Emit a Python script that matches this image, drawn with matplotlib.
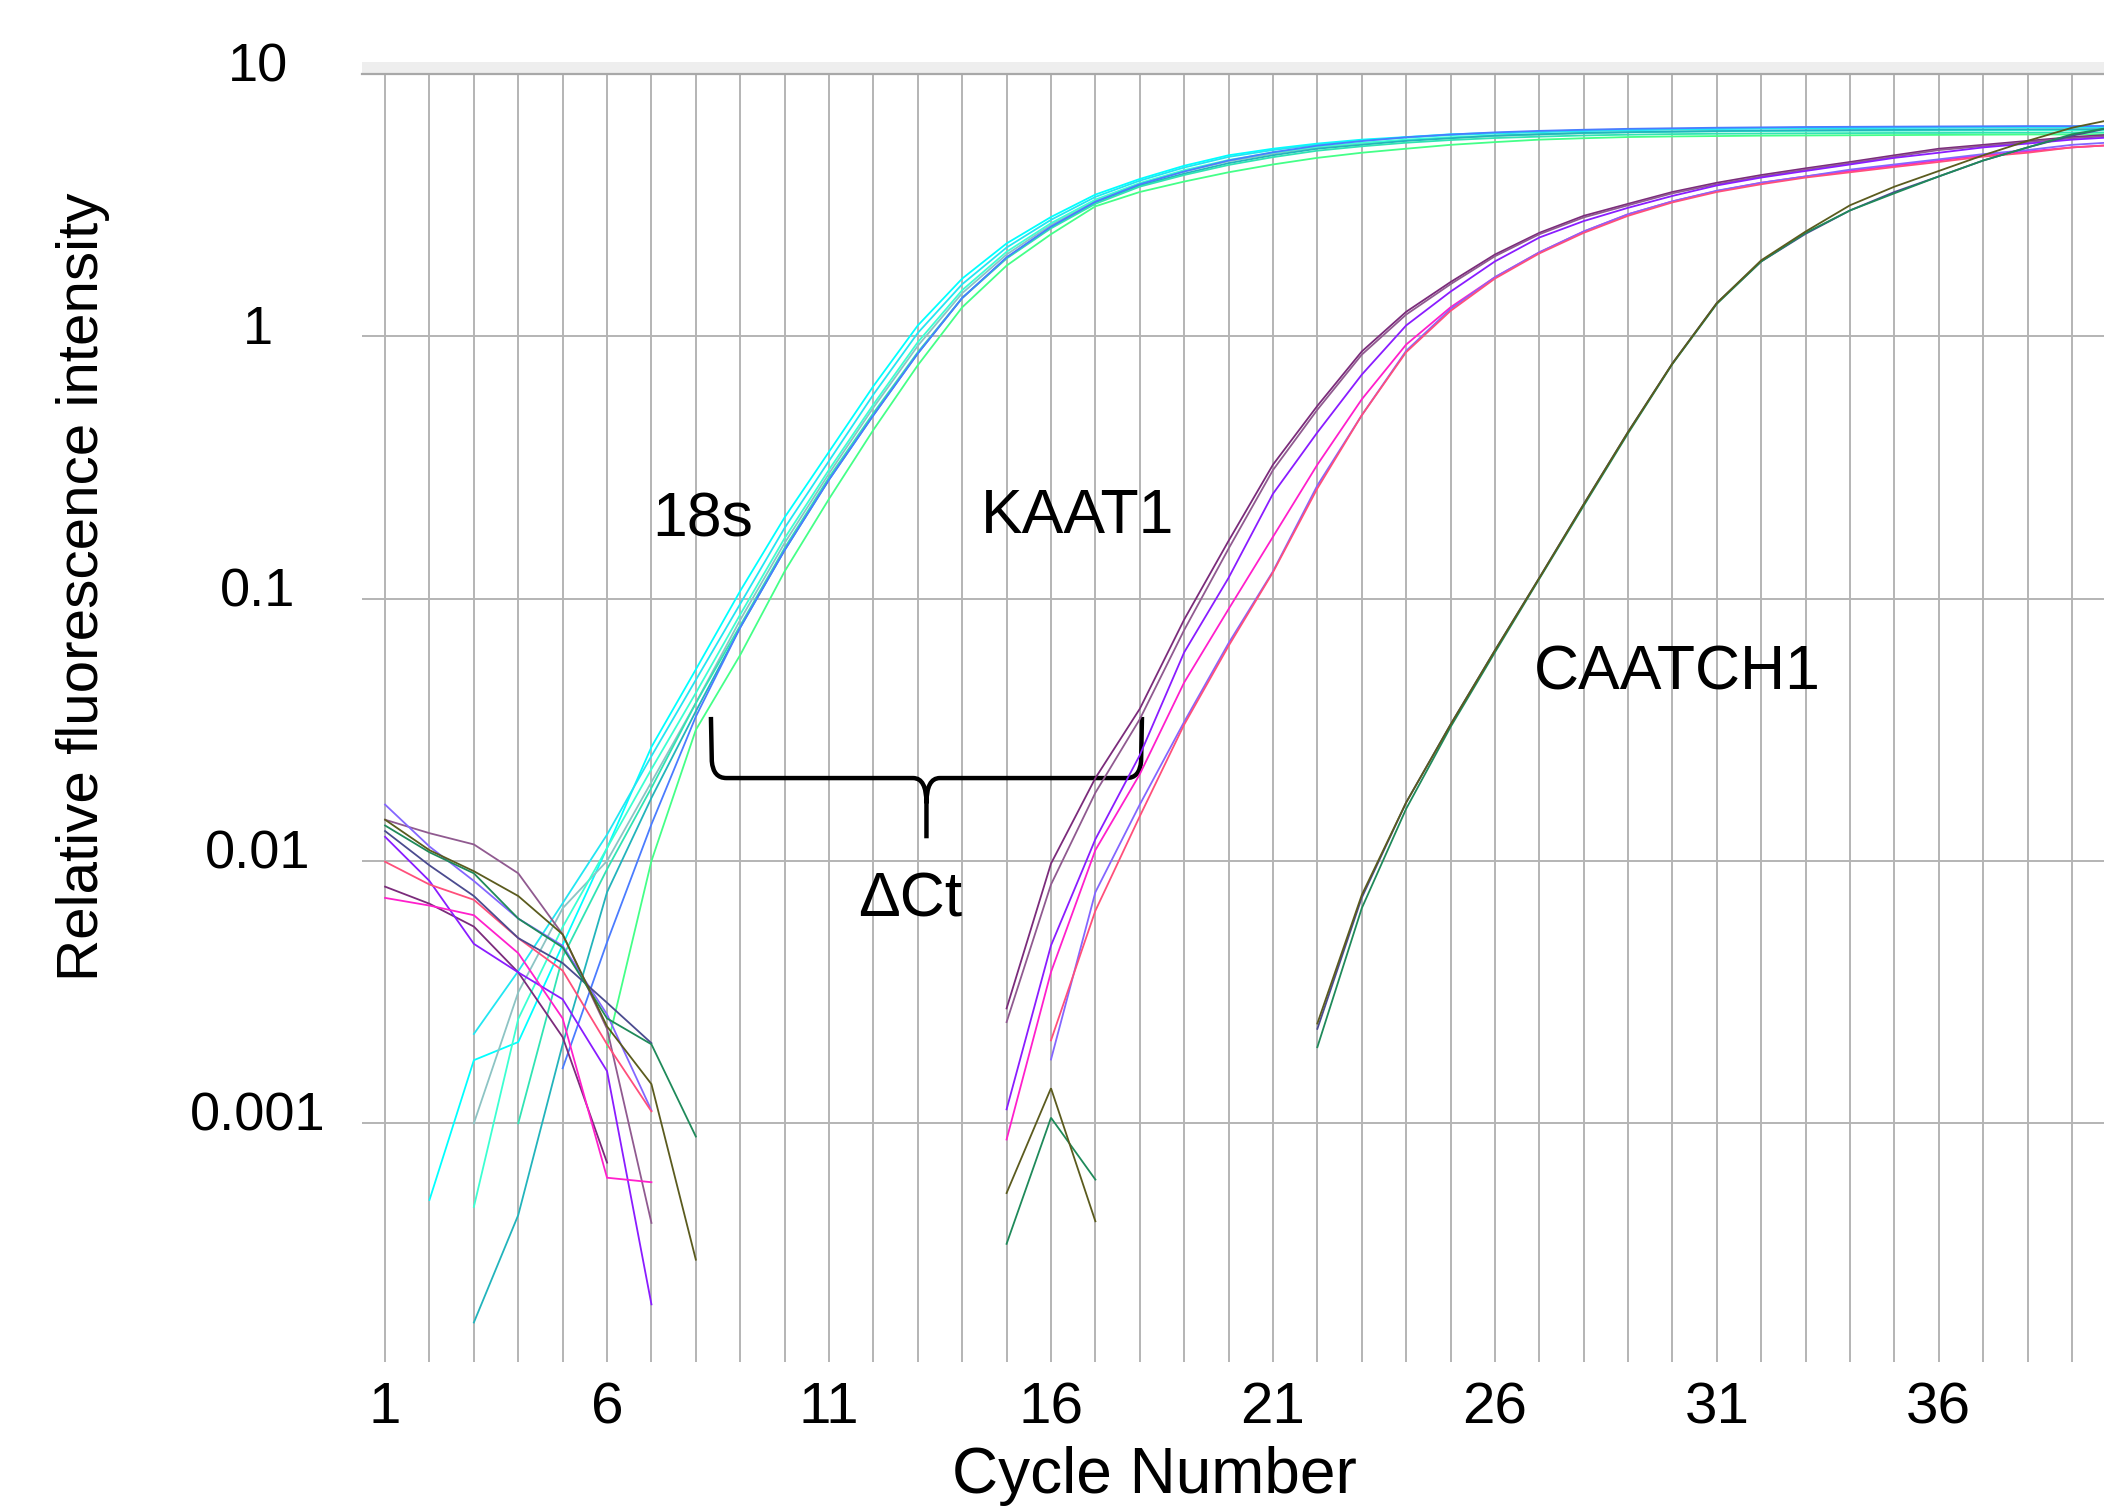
import numpy as np
import matplotlib.pyplot as plt
from matplotlib.path import Path
from matplotlib.patches import PathPatch, Rectangle
from matplotlib.ticker import MultipleLocator, NullLocator
from matplotlib.transforms import ScaledTranslation

plt.rcParams['font.family'] = ['Liberation Sans', 'DejaVu Sans']

# Relative fluorescence per cycle.
# Each curve is a list of (first cycle, values) segments; gaps are cycles
# where the baseline-corrected signal fell below zero.

# 18s (reference gene)
s18_cyan = [(2, [0.00051, 0.00174, 0.00204, 0.00479, 0.0112, 0.0272, 0.0537, 0.107, 0.204,
                 0.363, 0.646, 1.10, 1.66, 2.26, 2.85, 3.47, 3.98, 4.47, 4.90, 5.19, 5.43,
                 5.62, 5.75, 5.89, 5.96, 6.03, 6.10, 6.12, 6.17, 6.19, 6.22, 6.24, 6.25,
                 6.26, 6.27, 6.28, 6.29, 6.30, 6.31])]
s18_cyan2 = [(3, [0.00219, 0.0038, 0.0069, 0.0126, 0.0251, 0.049, 0.0955, 0.186, 0.335, 0.60,
                  1.03, 1.58, 2.18, 2.78, 3.40, 3.92, 4.40, 4.83, 5.13, 5.38, 5.58, 5.72,
                  5.85, 5.93, 6.00, 6.06, 6.10, 6.14, 6.17, 6.19, 6.21, 6.22, 6.23, 6.24,
                  6.25, 6.26, 6.27, 6.28])]
s18_gray = [(3, [0.0010, 0.00316, 0.0066, 0.010, 0.020, 0.040, 0.083, 0.163, 0.30, 0.535,
                 0.92, 1.46, 2.05, 2.66, 3.28, 3.80, 4.25, 4.65, 4.97, 5.24, 5.43, 5.58,
                 5.70, 5.80, 5.88, 5.95, 6.00, 6.03, 6.05, 6.07, 6.08, 6.09, 6.10, 6.10,
                 6.11, 6.12, 6.12, 6.13])]
s18_aqua = [(3, [0.00048, 0.0025, 0.0056, 0.0112, 0.0224, 0.0437, 0.087, 0.170, 0.31, 0.55,
                 0.95, 1.50, 2.10, 2.70, 3.32, 3.84, 4.30, 4.70, 5.02, 5.28, 5.47, 5.62,
                 5.74, 5.83, 5.90, 5.96, 6.00, 6.03, 6.05, 6.06, 6.07, 6.08, 6.08, 6.09,
                 6.09, 6.10, 6.10, 6.10])]
s18_teal = [(3, [0.000174, 0.000447, 0.0020, 0.0076, 0.0174, 0.0372, 0.0776, 0.153, 0.284,
                 0.501, 0.861, 1.40, 1.99, 2.60, 3.24, 3.76, 4.17, 4.57, 4.90, 5.19, 5.37,
                 5.56, 5.69, 5.82, 5.89, 5.96, 6.00, 6.03, 6.06, 6.08, 6.10, 6.11, 6.12,
                 6.13, 6.14, 6.15, 6.16, 6.17])]
s18_seagreen = [(4, [0.0010, 0.0043, 0.0093, 0.019, 0.040, 0.079, 0.156, 0.29, 0.51, 0.87,
                     1.40, 1.98, 2.58, 3.20, 3.72, 4.12, 4.50, 4.82, 5.10, 5.30, 5.47, 5.60,
                     5.70, 5.77, 5.83, 5.87, 5.90, 5.92, 5.93, 5.94, 5.95, 5.96, 5.96, 5.97,
                     5.97, 5.98, 5.98])]
s18_blue = [(5, [0.00162, 0.0049, 0.0138, 0.0355, 0.0776, 0.153, 0.284, 0.50, 0.86, 1.40,
                 2.00, 2.62, 3.26, 3.80, 4.25, 4.68, 5.03, 5.33, 5.55, 5.74, 5.88, 5.99,
                 6.07, 6.13, 6.18, 6.21, 6.24, 6.26, 6.28, 6.29, 6.30, 6.31, 6.32, 6.33,
                 6.33, 6.34])]
s18_green = [(6, [0.00195, 0.010, 0.0316, 0.061, 0.127, 0.240, 0.440, 0.776, 1.29, 1.86,
                  2.45, 3.13, 3.55, 3.89, 4.22, 4.52, 4.79, 5.01, 5.19, 5.37, 5.50, 5.62,
                  5.69, 5.75, 5.78, 5.80, 5.82, 5.83, 5.84, 5.85, 5.86, 5.87, 5.88, 5.88,
                  5.89])]

# KAAT1
kaat1_purple = [(1, [0.00798, 0.00687, 0.00562, 0.00376, 0.00213, 0.000708]),
                (15, [0.00274, 0.00977, 0.0207, 0.038, 0.0832, 0.166, 0.324, 0.543, 0.875,
                      1.24, 1.61, 2.05, 2.48, 2.88, 3.20, 3.55, 3.85, 4.12, 4.37, 4.62, 4.90,
                      5.19, 5.37, 5.56, 5.75, 5.89])]
kaat1_mauve = [(1, [0.01436, 0.01276, 0.01156, 0.00897, 0.00525, 0.00229, 0.000417]),
               (15, [0.00243, 0.00813, 0.0182, 0.0347, 0.0759, 0.155, 0.309, 0.525, 0.851,
                     1.21, 1.58, 2.02, 2.45, 2.84, 3.16, 3.51, 3.80, 4.07, 4.32, 4.57, 4.84,
                     5.13, 5.31, 5.50, 5.69, 5.82])]
kaat1_violet = [(1, [0.01236, 0.00839, 0.00483, 0.00376, 0.00297, 0.00158, 0.000204]),
                (15, [0.00113, 0.00476, 0.0121, 0.0253, 0.0624, 0.12, 0.251, 0.43, 0.714,
                      1.10, 1.48, 1.93, 2.38, 2.75, 3.09, 3.43, 3.76, 4.03, 4.27, 4.52, 4.79,
                      5.01, 5.25, 5.43, 5.62, 5.75])]
kaat1_magenta = [(1, [0.00723, 0.00676, 0.00621, 0.00445, 0.00251, 0.00062, 0.000596]),
                 (15, [0.000867, 0.00377, 0.011, 0.0214, 0.0479, 0.0912, 0.172, 0.324, 0.575,
                       0.93, 1.29, 1.68, 2.09, 2.51, 2.92, 3.27, 3.58, 3.85, 4.07, 4.27,
                       4.47, 4.68, 4.90, 5.07, 5.25, 5.37])]
kaat1_lilac = [(1, [0.0164, 0.01135, 0.00839, 0.00603, 0.00475, 0.0026, 0.00112]),
               (16, [0.00175, 0.0076, 0.0164, 0.0339, 0.0676, 0.127, 0.27, 0.50, 0.88, 1.27,
                     1.68, 2.09, 2.51, 2.92, 3.27, 3.59, 3.85, 4.07, 4.32, 4.52, 4.73, 4.95,
                     5.13, 5.37, 5.50])]
kaat1_salmon = [(1, [0.00993, 0.00813, 0.00711, 0.00508, 0.00382, 0.0020, 0.00111]),
                (16, [0.00207, 0.00646, 0.0148, 0.0331, 0.066, 0.126, 0.263, 0.50, 0.87,
                      1.25, 1.66, 2.07, 2.48, 2.88, 3.24, 3.55, 3.80, 4.03, 4.22, 4.42, 4.62,
                      4.84, 5.01, 5.25, 5.37])]

# CAATCH1
caatch1_olive = [(1, [0.01436, 0.01099, 0.00914, 0.00735, 0.00525, 0.00234, 0.00141, 0.000302]),
                 (15, [0.000542, 0.00136, 0.000423]),
                 (22, [0.0024, 0.00741, 0.0167, 0.0331, 0.0635, 0.12, 0.229, 0.432, 0.789,
                       1.34, 1.95, 2.51, 3.16, 3.72, 4.27, 4.90, 5.56, 6.24, 6.76])]
caatch1_green = [(1, [0.01365, 0.01079, 0.00897, 0.00603, 0.00468, 0.00251, 0.0020, 0.00089]),
                 (15, [0.000347, 0.00105, 0.00061]),
                 (22, [0.00195, 0.0066, 0.0158, 0.0324, 0.0624, 0.119, 0.226, 0.427, 0.785,
                       1.33, 1.93, 2.48, 3.02, 3.51, 4.07, 4.68, 5.25, 5.89, 6.31])]
caatch1_slate = [(1, [0.013, 0.00962, 0.00735, 0.00508, 0.00408, 0.00288, 0.00202]),
                 (22, [0.00229, 0.00724, 0.0167, 0.0331, 0.0635, 0.12, 0.229, 0.432, 0.789,
                       1.34, 1.93, 2.46, 3.02, 3.55, 4.07, 4.68, 5.25, 5.82, 6.31])]

curves = [
    (s18_cyan, '#00ffff'), (s18_cyan2, '#22e6f2'), (s18_gray, '#8cc4c4'),
    (s18_aqua, '#3cffd2'), (s18_teal, '#22b4bc'), (s18_seagreen, '#30e4b4'),
    (s18_blue, '#4a7cff'), (s18_green, '#44ff88'),
    (kaat1_purple, '#7b2b7b'), (kaat1_mauve, '#905a90'), (kaat1_violet, '#8a1cff'),
    (kaat1_magenta, '#ff1fcc'), (kaat1_lilac, '#8466ff'), (kaat1_salmon, '#ff4f7b'),
    (caatch1_slate, '#4b4b8f'), (caatch1_green, '#1f8a5a'), (caatch1_olive, '#5b5b1e'),
]

# threshold crossings spanned by the delta-Ct brace
ct_18s = 8.34
ct_kaat1 = 18.05

xtick_vals = [1, 6, 11, 16, 21, 26, 31, 36]
xtick_labels = ['1', '6', '11', '16', '21', '26', '31', '36']
ytick_vals = [0.001, 0.01, 0.1, 1, 10]
ytick_labels = ['0.001', '0.01', '0.1', '1', '10']

fig = plt.figure(figsize=(21.04, 15.08), dpi=100)
ax = fig.add_axes([0.17205, 0.09682, 0.82795, 0.85411])

for segments, color in curves:
    for start, vals in segments:
        cyc = np.arange(start, start + len(vals))
        ax.plot(cyc, vals, color=color, lw=1.3, solid_joinstyle='miter')

ax.set_yscale('log')
ax.set_ylim(1.23e-4, 10)
ax.set_xlim(0.48, 39.72)

ax.set_xticks(xtick_vals, xtick_labels)
ax.xaxis.set_minor_locator(MultipleLocator(1))
ax.set_yticks(ytick_vals, ytick_labels)
ax.yaxis.set_minor_locator(NullLocator())

ax.grid(axis='x', which='both', color='#b4b4b4', lw=1.4)
ax.grid(axis='y', which='major', color='#b4b4b4', lw=1.4)
ax.set_axisbelow(True)

for side in ['left', 'right', 'bottom']:
    ax.spines[side].set_visible(False)
ax.spines['top'].set_color('#a8a8a8')
ax.spines['top'].set_linewidth(1.6)
ax.add_patch(Rectangle((0, 1), 1, 0.009, transform=ax.transAxes, fc='#eeeeee',
                       ec='none', clip_on=False))

ax.tick_params(axis='x', which='both', length=0, labelsize=42, pad=14)
ax.tick_params(axis='y', which='both', length=0, labelsize=39, pad=75)
for lab in ax.get_yticklabels():
    lab.set_ha('center')
    lab.set_transform(lab.get_transform() + ScaledTranslation(0, 0.12, fig.dpi_scale_trans))

ax.set_xlabel('Cycle Number', fontsize=46, va='center')
ax.xaxis.set_label_coords(0.4547, -0.0885)
ax.set_ylabel('Relative fluorescence intensity', fontsize=42, va='center')
ax.yaxis.set_label_coords(-0.160, 0.602)

ax.text(8.16, 0.20, '18s', fontsize=45, ha='center', va='center')
ax.text(16.6, 0.205, 'KAAT1', fontsize=45, ha='center', va='center')
ax.text(30.1, 0.052, 'CAATCH1', fontsize=45, ha='center', va='center')
ax.text(12.82, 0.0071, '\u0394Ct', fontsize=45, ha='center', va='center')

# delta-Ct brace between the two threshold crossings
y_top, y_bar, y_tip = 0.0354, 0.0207, 0.0122
y_bend = 0.024
y_cusp = 0.0166
xc = (ct_18s + ct_kaat1) / 2
verts = [(ct_18s, y_top), (ct_18s + 0.02, y_bend), (ct_18s + 0.05, y_bar), (ct_18s + 0.35, y_bar),
         (xc - 0.3, y_bar), (xc, y_bar), (xc, y_cusp), (xc, y_tip),
         (xc, y_cusp), (xc, y_bar), (xc + 0.3, y_bar),
         (ct_kaat1 - 0.35, y_bar), (ct_kaat1 - 0.05, y_bar), (ct_kaat1 - 0.02, y_bend),
         (ct_kaat1, y_top)]
codes = [Path.MOVETO, Path.LINETO, Path.CURVE3, Path.CURVE3,
         Path.LINETO, Path.CURVE3, Path.CURVE3, Path.LINETO,
         Path.MOVETO, Path.CURVE3, Path.CURVE3,
         Path.LINETO, Path.CURVE3, Path.CURVE3, Path.LINETO]
ax.add_patch(PathPatch(Path(verts, codes), fc='none', ec='black', lw=3.2,
                       capstyle='butt', joinstyle='round'))

fig.savefig('out.png', dpi=100)
